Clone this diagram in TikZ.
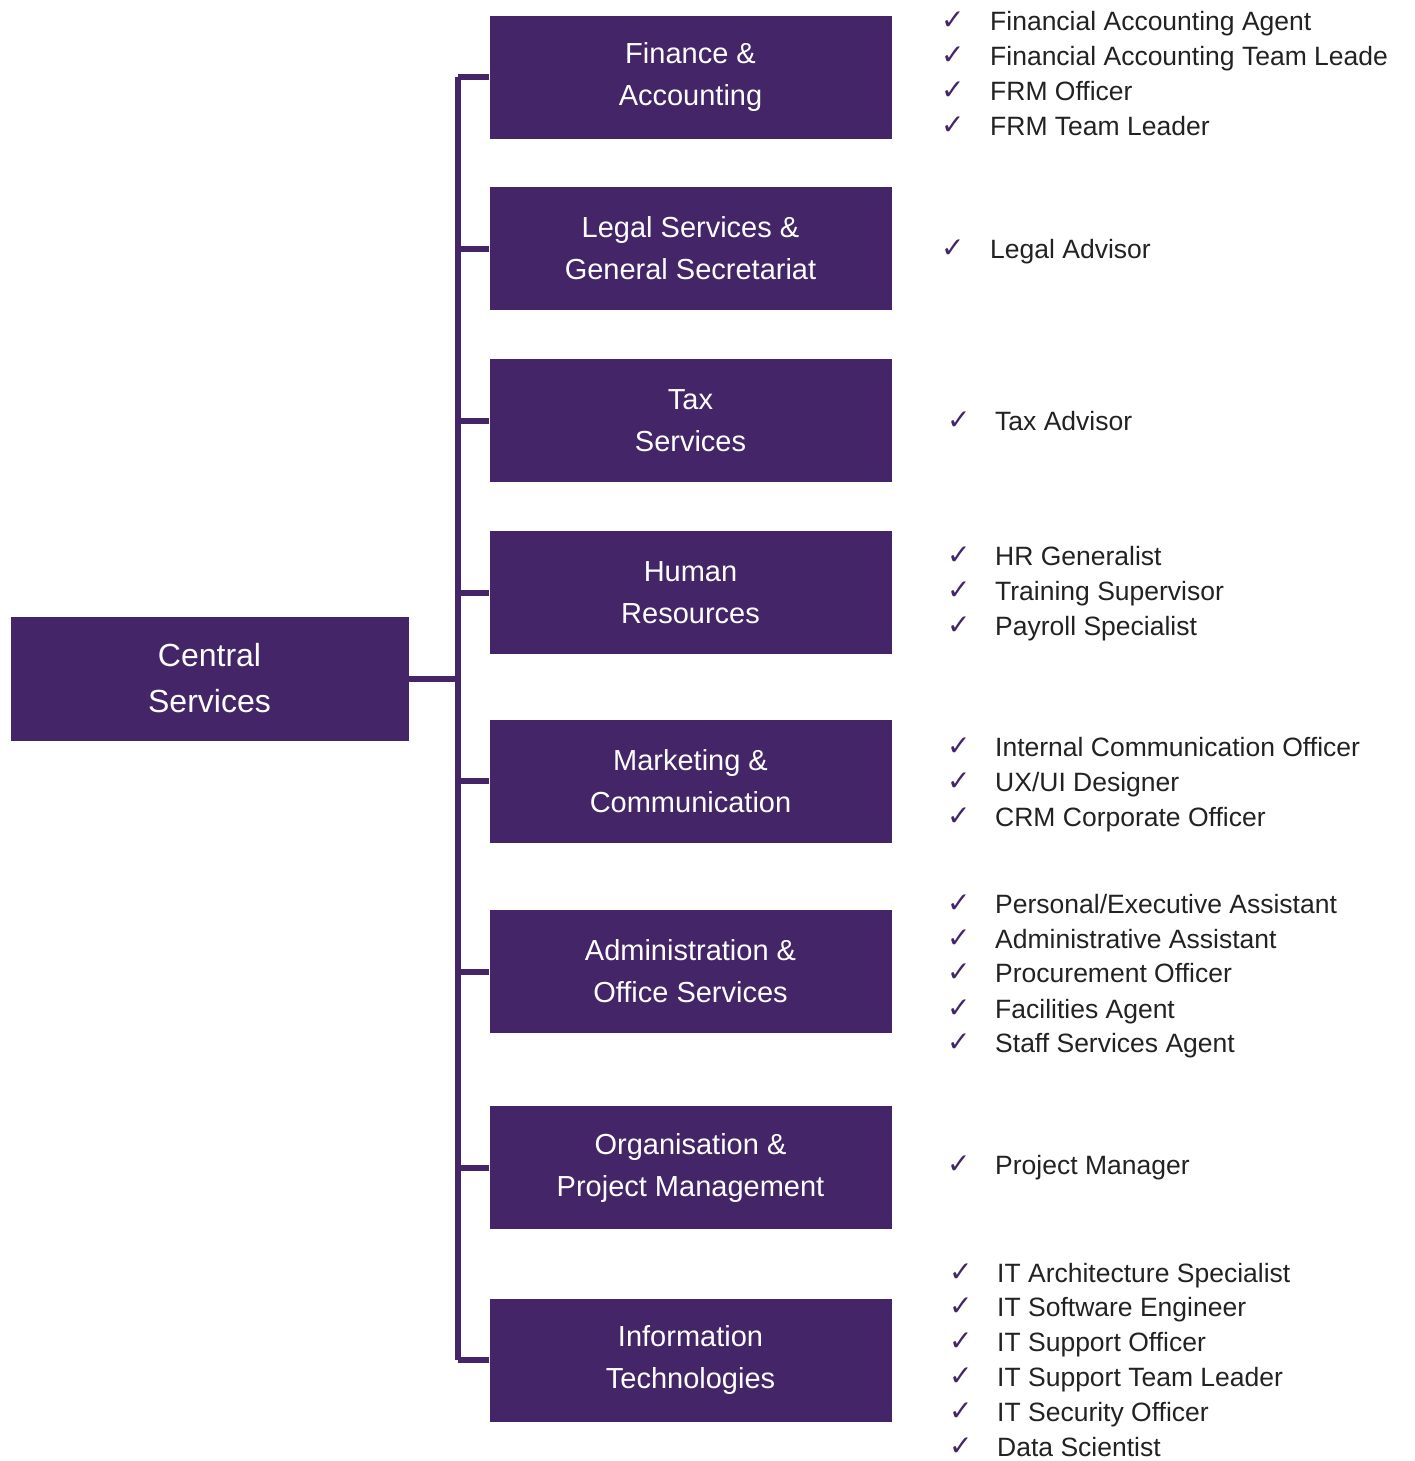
\documentclass[tikz,border=0pt]{standalone}
\usepackage{fontspec}
\setmainfont{Liberation Sans}
\newfontfamily\tickfont{DejaVu Sans}
\usetikzlibrary{positioning}
\definecolor{orgpurple}{HTML}{432568}
\definecolor{itemgray}{HTML}{222222}
\tikzset{
    centralbox/.style = {rectangle, fill=orgpurple, align=center, inner sep=0pt, minimum width=398pt, minimum height=124pt, text=white, font=\fontsize{32}{46}\selectfont},
    deptbox/.style = {rectangle, fill=orgpurple, align=center, inner sep=0pt, minimum width=402pt, minimum height=123pt, text=white, font=\fontsize{29}{42}\selectfont},
    tickmark/.style = {anchor=mid west, inner sep=0pt, text=orgpurple, font=\tickfont\fontsize{28}{28}\selectfont},
    jobitem/.style = {anchor=mid west, inner sep=0pt, text=itemgray, font=\fontsize{26.5}{30}\selectfont},
    edgep/.style = {-, line width=6pt, orgpurple},
}

\begin{document}
\begin{tikzpicture}[x=1pt,y=-1pt]
  \useasboundingbox (0,0) rectangle (1415,1461);
  % central node and departments
  \node[centralbox] (central) at (209.5,678.5) {Central\\Services};
  \node[deptbox] (fin) at (690.5,77.5) {Finance \&\\Accounting};
  \node[deptbox] (legal) at (690.5,248.5) {Legal Services \&\\General Secretariat};
  \node[deptbox] (tax) at (690.5,420.5) {Tax\\Services};
  \node[deptbox] (hr) at (690.5,592.5) {Human\\Resources};
  \node[deptbox] (mkt) at (690.5,781) {Marketing \&\\Communication};
  \node[deptbox] (admin) at (690.5,971.5) {Administration \&\\Office Services};
  \node[deptbox] (org) at (690.5,1167.5) {Organisation \&\\Project Management};
  \node[deptbox] (it) at (690.5,1360) {Information\\Technologies};
  \coordinate (trunk) at (458,679);

  % connectors
  \draw[edgep] (central.east) -- (central.east -| trunk);
  \draw[edgep] (fin.west -| trunk) -- (it.west -| trunk);
  \draw[edgep] (fin.west) -- (fin.west -| trunk);
  \draw[edgep] (legal.west) -- (legal.west -| trunk);
  \draw[edgep] (tax.west) -- (tax.west -| trunk);
  \draw[edgep] (hr.west) -- (hr.west -| trunk);
  \draw[edgep] (mkt.west) -- (mkt.west -| trunk);
  \draw[edgep] (admin.west) -- (admin.west -| trunk);
  \draw[edgep] (org.west) -- (org.west -| trunk);
  \draw[edgep] (it.west) -- (it.west -| trunk);

  % finance & accounting
  \node[tickmark] (fint1) at (941,27) {✓};
  \node[jobitem] (fin1) at (990,28) {Financial Accounting Agent};
  \node[tickmark] (fint2) at (941,62) {✓};
  \node[jobitem] (fin2) at (990,63) {Financial Accounting Team Leade};
  \node[tickmark] (fint3) at (941,97) {✓};
  \node[jobitem] (fin3) at (990,98) {FRM Officer};
  \node[tickmark] (fint4) at (941,132) {✓};
  \node[jobitem] (fin4) at (990,133) {FRM Team Leader};

  % legal
  \node[tickmark] (legt1) at (941,255) {✓};
  \node[jobitem] (leg1) at (990,256) {Legal Advisor};

  % tax
  \node[tickmark] (taxt1) at (947,427) {✓};
  \node[jobitem] (tax1) at (995,428) {Tax Advisor};

  % human resources
  \node[tickmark] (hrt1) at (947,562) {✓};
  \node[jobitem] (hr1) at (995,563) {HR Generalist};
  \node[tickmark] (hrt2) at (947,597) {✓};
  \node[jobitem] (hr2) at (995,598) {Training Supervisor};
  \node[tickmark] (hrt3) at (947,632) {✓};
  \node[jobitem] (hr3) at (995,633) {Payroll Specialist};

  % marketing
  \node[tickmark] (mkt1t) at (947,753) {✓};
  \node[jobitem] (mkt1) at (995,754) {Internal Communication Officer};
  \node[tickmark] (mkt2t) at (947,788) {✓};
  \node[jobitem] (mkt2) at (995,789) {UX/UI Designer};
  \node[tickmark] (mkt3t) at (947,823) {✓};
  \node[jobitem] (mkt3) at (995,824) {CRM Corporate Officer};

  % administration
  \node[tickmark] (adm1t) at (947,910) {✓};
  \node[jobitem] (adm1) at (995,911) {Personal/Executive Assistant};
  \node[tickmark] (adm2t) at (947,945) {✓};
  \node[jobitem] (adm2) at (995,946) {Administrative Assistant};
  \node[tickmark] (adm3t) at (947,979) {✓};
  \node[jobitem] (adm3) at (995,980) {Procurement Officer};
  \node[tickmark] (adm4t) at (947,1015) {✓};
  \node[jobitem] (adm4) at (995,1016) {Facilities Agent};
  \node[tickmark] (adm5t) at (947,1049) {✓};
  \node[jobitem] (adm5) at (995,1050) {Staff Services Agent};

  % organisation
  \node[tickmark] (orgt1) at (947,1171) {✓};
  \node[jobitem] (org1) at (995,1172) {Project Manager};

  % information technologies
  \node[tickmark] (itt1) at (949,1279) {✓};
  \node[jobitem] (it1) at (997,1280) {IT Architecture Specialist};
  \node[tickmark] (itt2) at (949,1313) {✓};
  \node[jobitem] (it2) at (997,1314) {IT Software Engineer};
  \node[tickmark] (itt3) at (949,1348) {✓};
  \node[jobitem] (it3) at (997,1349) {IT Support Officer};
  \node[tickmark] (itt4) at (949,1383) {✓};
  \node[jobitem] (it4) at (997,1384) {IT Support Team Leader};
  \node[tickmark] (itt5) at (949,1418) {✓};
  \node[jobitem] (it5) at (997,1419) {IT Security Officer};
  \node[tickmark] (itt6) at (949,1453) {✓};
  \node[jobitem] (it6) at (997,1454) {Data Scientist};
\end{tikzpicture}
\end{document}
